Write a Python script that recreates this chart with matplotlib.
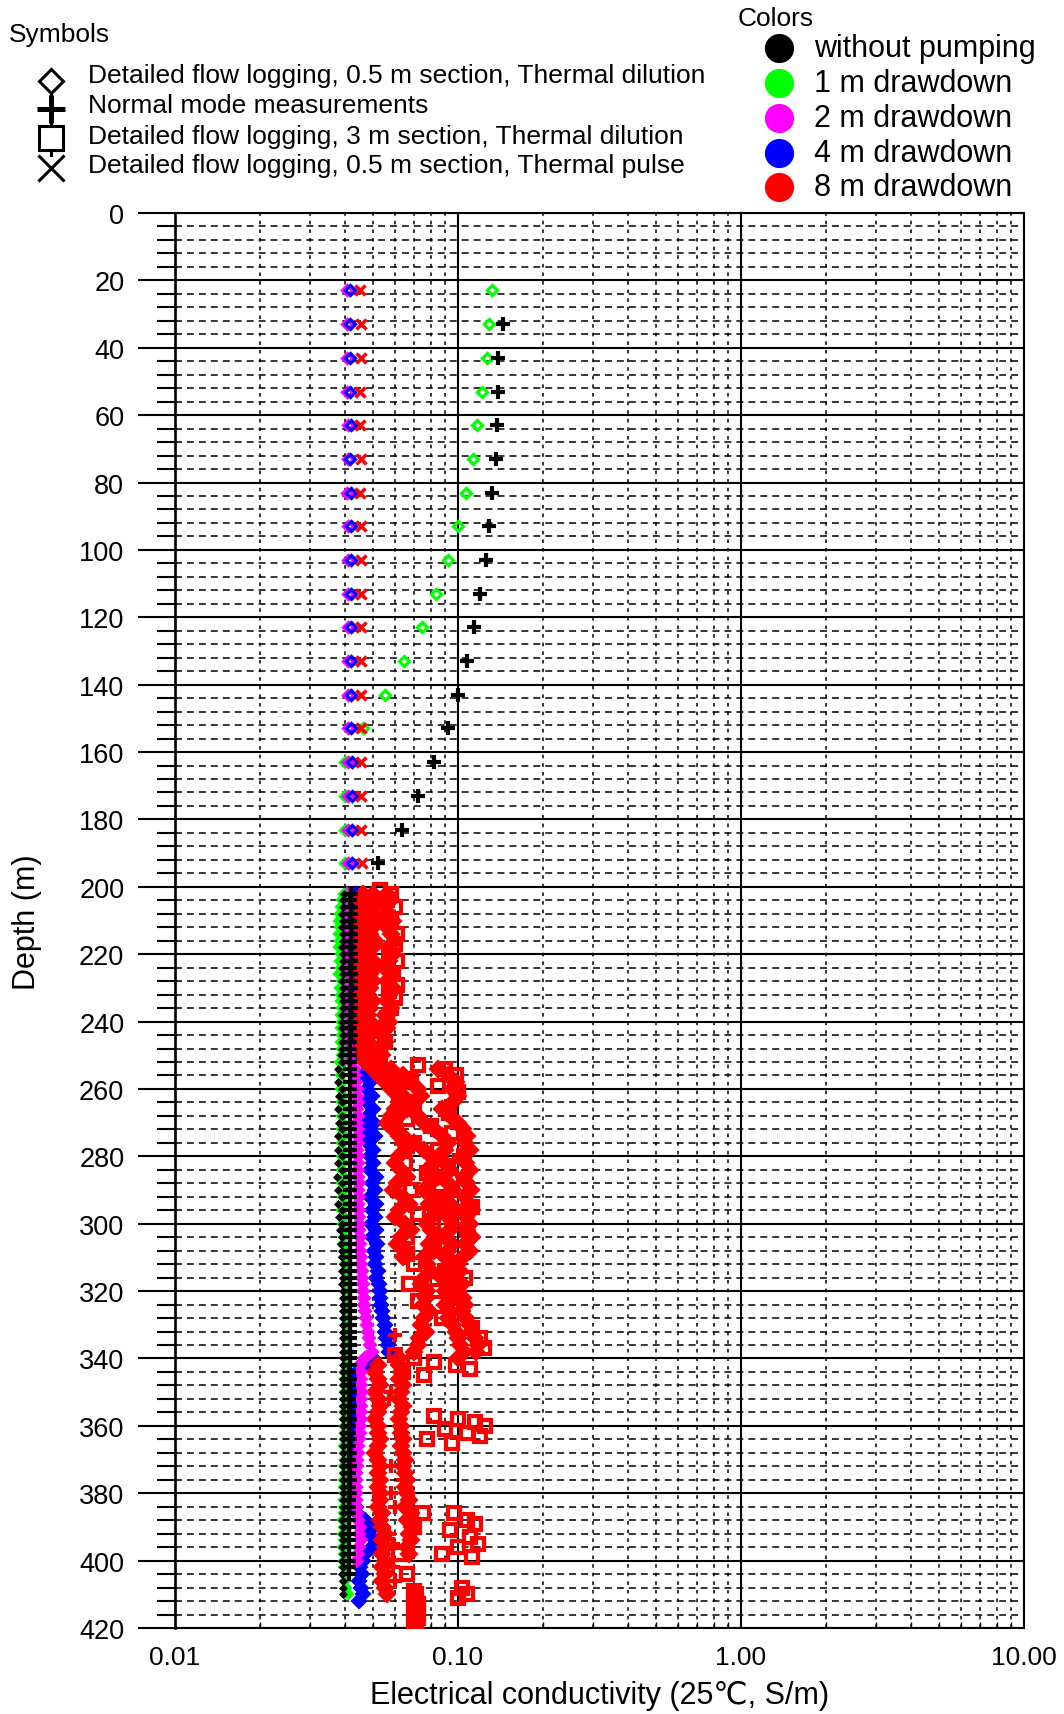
import numpy as np
import matplotlib
matplotlib.use("Agg")
import matplotlib.pyplot as plt
from matplotlib.ticker import FixedLocator, MultipleLocator, NullFormatter, FixedFormatter

plt.rcParams['font.family'] = ['Liberation Sans', 'DejaVu Sans']
plt.rcParams['lines.scale_dashes'] = False

# ---------------- colours ----------------
C_NONE = '#000000'
C_1M = '#00ff00'
C_2M = '#ff00ff'
C_4M = '#0000ff'
C_8M = '#ff0000'

# ---------------- upper borehole section (station measurements every 10 m) ----------------
depth_up = [23, 33, 43, 53, 63, 73, 83, 93, 103, 113, 123, 133, 143, 153, 163, 173, 183, 193]
green_up = [0.1315, 0.1288, 0.1270, 0.1220, 0.1170, 0.1133, 0.1064, 0.0997, 0.0919, 0.0834,
            0.0745, 0.0644, 0.0552, 0.0463, 0.0400, 0.0400, 0.0398, 0.0398]
blue_up = [0.0416, 0.0416, 0.0417, 0.0416, 0.0418, 0.0417, 0.0418, 0.0419, 0.0418, 0.0419,
           0.0419, 0.0419, 0.0420, 0.0420, 0.0421, 0.0421, 0.0422, 0.0422]
magenta_up = [0.0406, 0.0404, 0.0406, 0.0406, 0.0407, 0.0407, 0.0406, 0.0407, 0.0407, 0.0407,
              0.0407, 0.0408, 0.0408, 0.0408, 0.0409, 0.0410, 0.0410, 0.0410]
red_x_up = [0.0452, 0.0455, 0.0453, 0.0451, 0.0452, 0.0453, 0.0452, 0.0454, 0.0453, 0.0454,
            0.0454, 0.0454, 0.0455, 0.0455, 0.0456, 0.0456, 0.0456, 0.0457]
depth_nm_up = [33, 43, 53, 63, 73, 83, 93, 103, 113, 123, 133, 143, 153, 163, 173, 183, 193]
black_nm_up = [0.1438, 0.1388, 0.1380, 0.1370, 0.1360, 0.1320, 0.1290, 0.1256, 0.1196, 0.1140,
               0.1080, 0.0997, 0.0919, 0.0822, 0.0724, 0.0632, 0.0523]

# ---------------- lower section, detailed logging (2 m steps shown) ----------------
depth_lo = np.arange(202, 412, 2)          # 202 ... 410 m

black_dia_lo = [
    0.0395, 0.0393, 0.0392, 0.0390, 0.0392, 0.0389, 0.0391, 0.0392, 0.0390, 0.0391,
    0.0391, 0.0390, 0.0392, 0.0389, 0.0391, 0.0390, 0.0392, 0.0391, 0.0390, 0.0389,
    0.0390, 0.0391, 0.0388, 0.0390, 0.0386, 0.0389, 0.0378, 0.0388, 0.0376, 0.0389,
    0.0380, 0.0390, 0.0377, 0.0389, 0.0379, 0.0390, 0.0376, 0.0389, 0.0378, 0.0388,
    0.0377, 0.0389, 0.0375, 0.0388, 0.0378, 0.0389, 0.0376, 0.0388, 0.0379, 0.0389,
    0.0382, 0.0390, 0.0386, 0.0390, 0.0388, 0.0391, 0.0389, 0.0391, 0.0390, 0.0391,
    0.0391, 0.0392, 0.0391, 0.0392, 0.0392, 0.0391, 0.0392, 0.0392, 0.0391, 0.0392,
    0.0392, 0.0391, 0.0392, 0.0391, 0.0392, 0.0391, 0.0392, 0.0391, 0.0392, 0.0391,
    0.0391, 0.0392, 0.0391, 0.0392, 0.0391, 0.0392, 0.0391, 0.0392, 0.0391, 0.0392,
    0.0391, 0.0392, 0.0391, 0.0390, 0.0391, 0.0390, 0.0391, 0.0390, 0.0391, 0.0390,
    0.0391, 0.0390, 0.0391, 0.0392, 0.0393]

green_lo = [
    0.0395, 0.0390, 0.0385, 0.0383, 0.0380, 0.0382, 0.0379, 0.0384, 0.0381, 0.0385,
    0.0384, 0.0386, 0.0380, 0.0388, 0.0384, 0.0387, 0.0385, 0.0389, 0.0386, 0.0388,
    0.0387, 0.0389, 0.0386, 0.0390, 0.0388, 0.0384, 0.0389, 0.0385, 0.0390, 0.0386,
    0.0392, 0.0389, 0.0394, 0.0390, 0.0393, 0.0388, 0.0394, 0.0390, 0.0393, 0.0389,
    0.0393, 0.0389, 0.0394, 0.0390, 0.0395, 0.0391, 0.0394, 0.0390, 0.0395, 0.0391,
    0.0394, 0.0397, 0.0393, 0.0398, 0.0395, 0.0399, 0.0400, 0.0402, 0.0401, 0.0403,
    0.0402, 0.0404, 0.0403, 0.0404, 0.0402, 0.0404, 0.0403, 0.0405, 0.0404, 0.0403,
    0.0401, 0.0400, 0.0399, 0.0400, 0.0398, 0.0399, 0.0400, 0.0398, 0.0399, 0.0400,
    0.0398, 0.0399, 0.0397, 0.0398, 0.0399, 0.0397, 0.0398, 0.0396, 0.0397, 0.0398,
    0.0396, 0.0394, 0.0397, 0.0393, 0.0395, 0.0392, 0.0396, 0.0393, 0.0395, 0.0394,
    0.0396, 0.0398, 0.0400, 0.0403, 0.0408]

depth_mag_lo = np.arange(202, 402, 2)      # 202 ... 400 m
magenta_lo = [
    0.0405, 0.0404, 0.0406, 0.0405, 0.0404, 0.0406, 0.0405, 0.0404, 0.0406, 0.0405,
    0.0406, 0.0405, 0.0407, 0.0406, 0.0405, 0.0407, 0.0406, 0.0405, 0.0407, 0.0406,
    0.0407, 0.0408, 0.0410, 0.0412, 0.0415, 0.0420, 0.0428, 0.0432, 0.0436, 0.0438,
    0.0440, 0.0442, 0.0438, 0.0444, 0.0440, 0.0445, 0.0442, 0.0443, 0.0441, 0.0444,
    0.0443, 0.0445, 0.0442, 0.0446, 0.0444, 0.0447, 0.0445, 0.0446, 0.0448, 0.0447,
    0.0448, 0.0450, 0.0449, 0.0452, 0.0454, 0.0455, 0.0457, 0.0458, 0.0460, 0.0462,
    0.0464, 0.0467, 0.0470, 0.0473, 0.0476, 0.0480, 0.0484, 0.0490, 0.0495, 0.0470,
    0.0452, 0.0455, 0.0456, 0.0455, 0.0457, 0.0456, 0.0455, 0.0454, 0.0453, 0.0452,
    0.0450, 0.0448, 0.0445, 0.0442, 0.0440, 0.0438, 0.0437, 0.0436, 0.0436, 0.0435,
    0.0436, 0.0437, 0.0440, 0.0445, 0.0452, 0.0448, 0.0455, 0.0446, 0.0442, 0.0438]

depth_blue_lo = np.arange(202, 414, 2)     # 202 ... 412 m
blue_lo = [
    0.0435, 0.0432, 0.0436, 0.0434, 0.0433, 0.0436, 0.0434, 0.0435, 0.0433, 0.0436,
    0.0434, 0.0437, 0.0435, 0.0438, 0.0440, 0.0443, 0.0441, 0.0445, 0.0442, 0.0446,
    0.0444, 0.0447, 0.0445, 0.0448, 0.0446, 0.0470, 0.0485, 0.0465, 0.0490, 0.0475,
    0.0495, 0.0478, 0.0500, 0.0482, 0.0505, 0.0487, 0.0510, 0.0480, 0.0500, 0.0490,
    0.0502, 0.0488, 0.0512, 0.0495, 0.0508, 0.0490, 0.0515, 0.0497, 0.0510, 0.0494,
    0.0512, 0.0498, 0.0518, 0.0503, 0.0515, 0.0510, 0.0520, 0.0515, 0.0525, 0.0528,
    0.0532, 0.0536, 0.0540, 0.0545, 0.0550, 0.0554, 0.0558, 0.0565, 0.0570, 0.0500,
    0.0455, 0.0440, 0.0437, 0.0435, 0.0437, 0.0434, 0.0436, 0.0435, 0.0433, 0.0436,
    0.0434, 0.0436, 0.0433, 0.0435, 0.0432, 0.0434, 0.0433, 0.0432, 0.0434, 0.0433,
    0.0434, 0.0436, 0.0440, 0.0470, 0.0500, 0.0485, 0.0510, 0.0495, 0.0470, 0.0460,
    0.0452, 0.0458, 0.0446, 0.0455, 0.0462, 0.0448]
depth_blue_step = [270, 272, 274, 341, 341, 342]
blue_step = [0.0455, 0.0450, 0.0460, 0.0470, 0.0490, 0.0475]

depth_nm_lo = np.arange(202, 406, 2)       # 202 ... 404 m
black_nm_lo = [
    0.0418, 0.0417, 0.0419, 0.0418, 0.0417, 0.0418, 0.0419, 0.0418, 0.0417, 0.0418,
    0.0418, 0.0417, 0.0418, 0.0419, 0.0418, 0.0417, 0.0418, 0.0418, 0.0417, 0.0418,
    0.0417, 0.0418, 0.0417, 0.0416, 0.0417, 0.0416, 0.0417, 0.0416, 0.0415, 0.0416,
    0.0416, 0.0415, 0.0416, 0.0415, 0.0416, 0.0415, 0.0416, 0.0415, 0.0416, 0.0415,
    0.0415, 0.0416, 0.0415, 0.0416, 0.0415, 0.0416, 0.0415, 0.0416, 0.0415, 0.0416,
    0.0415, 0.0416, 0.0415, 0.0414, 0.0415, 0.0414, 0.0415, 0.0414, 0.0415, 0.0414,
    0.0414, 0.0415, 0.0414, 0.0415, 0.0414, 0.0415, 0.0414, 0.0415, 0.0414, 0.0415,
    0.0414, 0.0413, 0.0414, 0.0413, 0.0414, 0.0413, 0.0414, 0.0413, 0.0414, 0.0413,
    0.0413, 0.0414, 0.0413, 0.0414, 0.0413, 0.0414, 0.0413, 0.0414, 0.0413, 0.0414,
    0.0413, 0.0412, 0.0413, 0.0412, 0.0413, 0.0412, 0.0413, 0.0412, 0.0413, 0.0412,
    0.0413, 0.0412]

# 8 m drawdown, 0.5 m section: overlapping traces through the wide band
red_a = [
    0.050, 0.051, 0.049, 0.050, 0.052, 0.050, 0.049, 0.051, 0.050, 0.048,
    0.050, 0.051, 0.049, 0.050, 0.049, 0.048, 0.050, 0.049, 0.048, 0.049,
    0.050, 0.049, 0.048, 0.049, 0.050, 0.052, 0.058, 0.064, 0.068, 0.072,
    0.074, 0.070, 0.066, 0.062, 0.058, 0.060, 0.064, 0.070, 0.076, 0.080,
    0.082, 0.078, 0.085, 0.080, 0.076, 0.083, 0.079, 0.086, 0.081, 0.078,
    0.080, 0.084, 0.079, 0.082, 0.076, 0.078, 0.080, 0.076, 0.074, 0.078,
    0.077, 0.075, 0.079, 0.076, 0.074, 0.077, 0.073, 0.072, 0.070, 0.062,
    0.052, 0.051, 0.052, 0.053, 0.051, 0.052, 0.053, 0.052, 0.051, 0.052,
    0.052, 0.053, 0.052, 0.051, 0.052, 0.053, 0.052, 0.053, 0.052, 0.053,
    0.053, 0.052, 0.054, 0.053, 0.054, 0.055, 0.054, 0.055, 0.054, 0.055,
    0.054, 0.055, 0.054, 0.055, 0.056]

depth_red_b = np.arange(202, 400, 2)       # 202 ... 398 m
red_b = [
    0.056, 0.058, 0.055, 0.057, 0.059, 0.056, 0.058, 0.060, 0.057, 0.059,
    0.057, 0.055, 0.058, 0.056, 0.059, 0.057, 0.056, 0.058, 0.055, 0.057,
    0.056, 0.054, 0.055, 0.053, 0.054, 0.052, 0.085, 0.092, 0.098, 0.095,
    0.100, 0.096, 0.088, 0.094, 0.100, 0.104, 0.108, 0.106, 0.110, 0.104,
    0.107, 0.110, 0.105, 0.108, 0.111, 0.106, 0.109, 0.112, 0.107, 0.110,
    0.108, 0.112, 0.106, 0.110, 0.104, 0.100, 0.102, 0.098, 0.103, 0.100,
    0.104, 0.106, 0.103, 0.107, 0.110, 0.112, 0.115, 0.118, 0.116, 0.100,
    0.062, 0.063, 0.062, 0.064, 0.063, 0.062, 0.064, 0.063, 0.062, 0.063,
    0.063, 0.064, 0.063, 0.064, 0.065, 0.064, 0.065, 0.066, 0.065, 0.066,
    0.067, 0.065, 0.068, 0.066, 0.069, 0.067, 0.068, 0.066, 0.067]

depth_red_c = np.arange(202, 340, 2)       # 202 ... 338 m
red_c = [
    0.046, 0.045, 0.046, 0.045, 0.046, 0.045, 0.046, 0.045, 0.046, 0.045,
    0.046, 0.045, 0.046, 0.045, 0.046, 0.045, 0.046, 0.045, 0.046, 0.045,
    0.046, 0.045, 0.046, 0.045, 0.046, 0.047, 0.050, 0.052, 0.055, 0.058,
    0.062, 0.066, 0.068, 0.072, 0.076, 0.082, 0.088, 0.092, 0.090, 0.086,
    0.090, 0.094, 0.088, 0.092, 0.096, 0.090, 0.094, 0.098, 0.092, 0.095,
    0.094, 0.090, 0.095, 0.092, 0.090, 0.094, 0.090, 0.088, 0.092, 0.090,
    0.093, 0.090, 0.094, 0.092, 0.096, 0.098, 0.100, 0.102, 0.105]

depth_red_d = np.arange(254, 312, 2)       # 254 ... 310 m
red_d = [
    0.055, 0.057, 0.060, 0.062, 0.064, 0.062, 0.060, 0.058, 0.056, 0.059,
    0.062, 0.064, 0.066, 0.062, 0.060, 0.063, 0.066, 0.061, 0.059, 0.064,
    0.067, 0.062, 0.060, 0.065, 0.068, 0.063, 0.061, 0.066, 0.064]

# 8 m drawdown, 3 m section
depth_red_sq = [201, 202, 204, 206, 207, 210, 214, 217, 219, 222, 226, 229, 231, 233, 236,
                239, 242, 246, 250,
                253, 254, 256, 257, 259, 261, 263, 264, 265, 267, 269, 271, 273, 276, 278,
                280, 282, 285, 287, 290, 292, 295, 297, 300, 302, 304, 306, 308, 309,
                312, 314, 316, 318, 320, 323, 325, 328, 331, 334, 337, 339, 340, 341, 342,
                343, 344, 345, 357, 358, 359, 360, 361, 362, 363, 364, 365,
                386, 388, 389, 391, 393, 395, 396, 398, 399, 386, 390, 398, 404, 408,
                410, 411, 409, 410, 411, 412, 413, 414, 415, 416, 417, 418, 419, 420]
red_sq = [0.053, 0.058, 0.056, 0.060, 0.052, 0.058, 0.061, 0.060, 0.057, 0.061, 0.059, 0.061,
          0.057, 0.060, 0.058, 0.056, 0.054, 0.055, 0.053,
          0.072, 0.090, 0.098, 0.068, 0.085, 0.100, 0.062, 0.066, 0.070, 0.093, 0.066, 0.080,
          0.095, 0.070, 0.085, 0.105, 0.065, 0.078, 0.095, 0.068, 0.085, 0.112, 0.072, 0.090,
          0.108, 0.066, 0.082, 0.100, 0.066,
          0.070, 0.090, 0.106, 0.067, 0.084, 0.072, 0.095, 0.088, 0.112, 0.120, 0.124, 0.060,
          0.070, 0.082, 0.098, 0.110, 0.064, 0.076, 0.082, 0.100, 0.115, 0.125, 0.090, 0.108,
          0.120, 0.078, 0.095,
          0.097, 0.108, 0.115, 0.094, 0.110, 0.118, 0.100, 0.088, 0.112, 0.075, 0.070, 0.062,
          0.066, 0.103, 0.108, 0.100, 0.070, 0.071, 0.070, 0.071, 0.072, 0.071, 0.070, 0.071,
          0.072, 0.071, 0.070, 0.071]

# 8 m drawdown, normal mode
depth_red_nm = [266, 281, 298, 322, 326, 333, 350, 352, 372, 376, 380, 384, 392, 395, 402, 406]
red_nm = [0.094, 0.097, 0.092, 0.093, 0.094, 0.060, 0.058, 0.057, 0.058, 0.064, 0.058, 0.060,
          0.057, 0.059, 0.059, 0.060]

# ---------------- axis texts ----------------
x_ticks = [0.01, 0.1, 1.0, 10.0]
x_tick_labels = ['0.01', '0.10', '1.00', '10.00']
y_ticks = list(range(0, 421, 20))
x_label = 'Electrical conductivity (25\u2103, S/m)'
y_label = 'Depth (m)'

symbol_labels = ['Detailed flow logging, 0.5 m section, Thermal dilution',
                 'Normal mode measurements',
                 'Detailed flow logging, 3 m section, Thermal dilution',
                 'Detailed flow logging, 0.5 m section, Thermal pulse']
color_labels = ['without pumping', '1 m drawdown', '2 m drawdown', '4 m drawdown', '8 m drawdown']
color_values = [C_NONE, C_1M, C_2M, C_4M, C_8M]

# ---------------- figure ----------------
W, H = 1064, 1715
fig = plt.figure(figsize=(W / 100, H / 100), dpi=100)
L, R, T, B = 175, 1024, 214, 1629
ax = fig.add_axes([L / W, 1 - B / H, (R - L) / W, (B - T) / H])
ax.set_xscale('log')
ax.set_xlim(0.01, 10)
ax.set_ylim(420, 0)

# grid
ax.xaxis.set_major_locator(FixedLocator(x_ticks))
ax.xaxis.set_major_formatter(FixedFormatter(x_tick_labels))
minor_x = [m * 10.0 ** e for e in (-2, -1, 0) for m in range(2, 10)]
ax.xaxis.set_minor_locator(FixedLocator(minor_x))
ax.xaxis.set_minor_formatter(NullFormatter())
ax.yaxis.set_major_locator(FixedLocator(y_ticks))
ax.yaxis.set_minor_locator(MultipleLocator(4))

ax.grid(which='major', axis='both', color='black', lw=1.5)
ax.grid(which='minor', axis='y', color='black', lw=1.1, linestyle=(0, (5.0, 3.6)))
ax.grid(which='minor', axis='x', color='black', lw=1.1, linestyle=(0, (2.6, 3.6)))
ax.set_axisbelow(True)

ax.tick_params(axis='y', which='major', direction='out', length=26.5, width=1.5,
               labelsize=19.5, pad=10)
ax.tick_params(axis='y', which='minor', direction='out', length=13, width=1.5)
ax.tick_params(axis='x', which='major', direction='in', length=0, labelsize=19, pad=12)
ax.tick_params(axis='x', which='minor', direction='in', length=4.5, width=1.0)
for s in ax.spines.values():
    s.set_linewidth(1.5)
ax.spines['left'].set_linewidth(1.9)

# ---- lower section ----
dense = dict(ls='none', marker='D', mew=1.6)
ax.plot(blue_lo, depth_blue_lo, ms=7.4, mfc=C_4M, mec=C_4M, zorder=2, **dense)
ax.plot(blue_step, depth_blue_step, ms=7.4, mfc=C_4M, mec=C_4M, zorder=2, **dense)
ax.plot(red_c, depth_red_c, ms=8.0, mfc=C_8M, mec=C_8M, zorder=3, **dense)
ax.plot(red_d, depth_red_d, ms=8.0, mfc=C_8M, mec=C_8M, zorder=3, **dense)
ax.plot(red_b, depth_red_b, ms=8.0, mfc=C_8M, mec=C_8M, zorder=3, **dense)
ax.plot(red_a, depth_lo, ms=8.4, mfc=C_8M, mec=C_8M, zorder=3, **dense)
ax.plot(red_sq, depth_red_sq, ls='none', marker='s', ms=9, mfc='none', mec=C_8M, mew=3.0, zorder=3)
ax.plot(red_nm, depth_red_nm, ls='none', marker='+', ms=10, mec=C_8M, mew=3.0, zorder=3)

ax.plot(magenta_lo, depth_mag_lo, ms=6.4, mfc=C_2M, mec=C_2M, zorder=4, **dense)
ax.plot(green_lo, depth_lo, ms=5.4, mfc=C_1M, mec=C_1M, zorder=5, **dense)
ax.plot(black_dia_lo, depth_lo, ls='none', marker='D', ms=3.4, mfc=C_NONE, mec=C_NONE, mew=1.2, zorder=6)
ax.plot(black_nm_lo, depth_nm_lo, ls='none', marker='+', ms=10, mec=C_NONE, mew=3.0, zorder=7)

# ---- upper section ----
ax.plot(green_up, depth_up, ls='none', marker='D', ms=5.6, mfc='none', mec=C_1M, mew=2.3, zorder=5)
ax.plot(magenta_up, depth_up, ls='none', marker='D', ms=5.6, mfc='none', mec=C_2M, mew=2.3, zorder=5)
ax.plot(blue_up, depth_up, ls='none', marker='D', ms=5.6, mfc='none', mec=C_4M, mew=2.3, zorder=6)
ax.plot(red_x_up, depth_up, ls='none', marker='x', ms=7.5, mec=C_8M, mew=2.5, zorder=6)
ax.plot(black_nm_up, depth_nm_up, ls='none', marker='+', ms=9.5, mec=C_NONE, mew=3.0, zorder=7)

# ---- axis labels ----
fig.text(600 / W, 1 - 1696 / H, x_label, ha='center', va='center', fontsize=22)
fig.text(27 / W, 1 - 922 / H, y_label, ha='center', va='center', fontsize=22, rotation=90)

# ---- keys (pixel coordinates) ----
key = fig.add_axes([0, 0, 1, 1])
key.set_xlim(0, W)
key.set_ylim(H, 0)
key.axis('off')
key.patch.set_visible(False)

key.text(9, 35, 'Symbols', ha='left', va='center', fontsize=19)
sym_y = [82, 109.5, 139, 168.5]
key.plot([51.4, 51.4], [94, 156], color='black', lw=2.2)
key.plot([51.4], [sym_y[0]], marker='D', ms=12, mfc='white', mec='black', mew=2.2)
key.plot([51.4], [sym_y[1]], marker='+', ms=20, mec='black', mew=3.6)
key.plot([51.4], [sym_y[2]], marker='s', ms=17, mfc='white', mec='black', mew=2.2)
key.plot([51.4], [sym_y[3]], marker='x', ms=19, mec='black', mew=2.2)
for lab, yy in zip(symbol_labels, [76.5, 106, 136.7, 166.2]):
    key.text(87.5, yy, lab, ha='left', va='center', fontsize=19)

key.text(738, 18.6, 'Colors', ha='left', va='center', fontsize=19)
col_y = [49.2, 84.2, 119.2, 154.2, 188.1]
for lab, c, yy in zip(color_labels, color_values, col_y):
    key.plot([778.6], [yy], marker='o', ms=20, mfc=c, mec=c)
    key.text(813.6, yy, lab, ha='left', va='center', fontsize=22)

fig.savefig('out.png', dpi=100)
